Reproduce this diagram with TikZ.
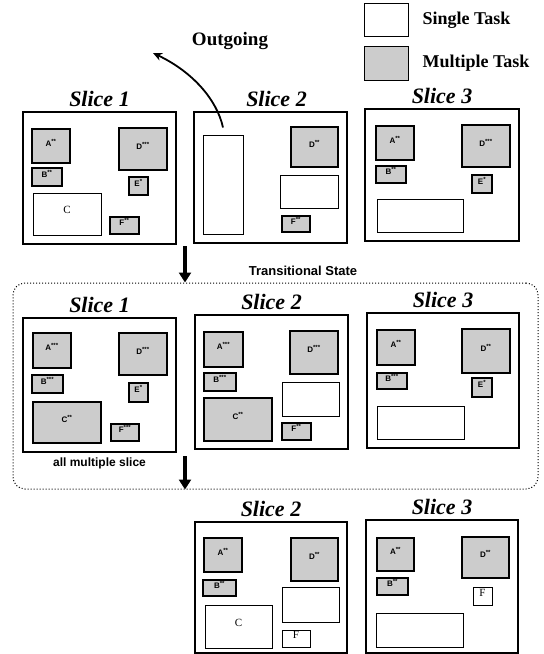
\documentclass[tikz,border=0pt]{standalone}
\usepackage{fontspec}
\setmainfont{Liberation Serif}
\setsansfont{Liberation Sans}
\usetikzlibrary{arrows.meta,fit,positioning}
\tikzset{
  slicebox/.style={draw,line width=1.2pt,inner sep=0pt},
  multitask/.style={draw,line width=2.4pt,fill=gray!40,inner sep=0pt,
    font=\sffamily\bfseries\fontsize{8}{8}\selectfont},
  singletask/.style={draw,line width=1pt,fill=white,inner sep=0pt,
    font=\fontsize{11}{11}\selectfont},
  slicetitle/.style={font=\bfseries\itshape\fontsize{22}{24}\selectfont,above=1pt of #1},
  bigarrow/.style={line width=3.5pt,-{Triangle[length=10pt,width=12pt]}},
  labeltext/.style={font=\bfseries\fontsize{18}{20}\selectfont,anchor=west},
  sanslabel/.style={font=\sffamily\bfseries\fontsize{13}{15}\selectfont},
}
% box spanning two corners: style, corner, corner, name, text
\newcommand\tbox[5]{\node[#1,fit={(#2) (#3)}] (#4) {#5};}
\newcommand\st[1]{\textsuperscript{#1}}
\begin{document}
\begin{tikzpicture}[x=1pt,y=-1pt]
 \useasboundingbox (0,0) rectangle (544,654);
 % legend
 \tbox{draw,line width=1pt}{368,7}{405,33}{lgsingle}{}
 \tbox{draw,line width=1.5pt,fill=gray!40}{368,50}{405,77}{lgmulti}{}
 \node[labeltext] at (419,20) {Single Task};
 \node[labeltext] at (419,63) {Multiple Task};

 % first row
 \tbox{slicebox}{23,112}{176,244}{r1s1}{}
 \node[slicetitle=r1s1] {Slice 1};
 \tbox{multitask}{32,129}{70,163}{r1s1a}{A\st{**}}
 \tbox{multitask}{119,128}{167,170}{r1s1d}{D\st{***}}
 \tbox{multitask}{32,168}{62,186}{r1s1b}{B\st{**}}
 \tbox{multitask}{129,177}{148,195}{r1s1e}{E\st{*}}
 \tbox{singletask}{33,193}{101,235}{r1s1c}{C}
 \tbox{multitask}{110,217}{139,234}{r1s1f}{F\st{**}}

 \tbox{slicebox}{194,112}{347,243}{r1s2}{}
 \node[slicetitle=r1s2,xshift=6pt] {Slice 2};
 \tbox{singletask}{203,135}{243,234}{r1s2out}{}
 \tbox{multitask}{291,127}{338,167}{r1s2d}{D\st{**}}
 \tbox{singletask}{280,175}{338,208}{r1s2g}{}
 \tbox{multitask}{282,216}{310,232}{r1s2f}{F\st{**}}

 \tbox{slicebox}{365,109}{519,241}{r1s3}{}
 \node[slicetitle=r1s3] {Slice 3};
 \tbox{multitask}{376,126}{414,160}{r1s3a}{A\st{**}}
 \tbox{multitask}{462,125}{510,167}{r1s3d}{D\st{***}}
 \tbox{multitask}{376,166}{406,183}{r1s3b}{B\st{**}}
 \tbox{multitask}{472,175}{492,193}{r1s3e}{E\st{*}}
 \tbox{singletask}{377,199}{463,232}{r1s3g}{}

 % outgoing task
 \coordinate (outend) at (153,53);
 \draw[line width=1.8pt,-{Stealth[length=9pt,width=8pt]}] ([yshift=7pt]r1s2out.north)
   .. controls (217,100) and (193,72) .. (outend);
 \node[font=\bfseries\fontsize{19}{21}\selectfont] (outlabel) at (230,41) {Outgoing};

 % transitional state
 \node[draw,dotted,line width=1pt,rounded corners=12pt,inner sep=0pt,
   fit={(13,283) (538,489)}] (trans) {};
 \node[sanslabel] (translabel) at (303,271) {Transitional State};
 \coordinate (arrA) at (185,246);
 \draw[bigarrow] (arrA) -- (arrA |- trans.north);

 \tbox{slicebox}{23,318}{176,452}{r2s1}{}
 \node[slicetitle=r2s1] {Slice 1};
 \tbox{multitask}{33,333}{71,368}{r2s1a}{A\st{***}}
 \tbox{multitask}{119,333}{167,375}{r2s1d}{D\st{***}}
 \tbox{multitask}{32,375}{63,393}{r2s1b}{B\st{***}}
 \tbox{multitask}{129,383}{148,402}{r2s1e}{E\st{*}}
 \tbox{multitask}{33,402}{101,443}{r2s1c}{C\st{**}}
 \tbox{multitask}{111,424}{139,441}{r2s1f}{F\st{***}}
 \node[sanslabel,font=\sffamily\bfseries\fontsize{12}{14}\selectfont,below=2pt of r2s1] (alllabel) {all multiple slice};

 \tbox{slicebox}{195,315}{348,449}{r2s2}{}
 \node[slicetitle=r2s2] {Slice 2};
 \tbox{multitask}{204,332}{243,367}{r2s2a}{A\st{***}}
 \tbox{multitask}{290,331}{338,374}{r2s2d}{D\st{***}}
 \tbox{multitask}{204,373}{236,391}{r2s2b}{B\st{***}}
 \tbox{singletask}{282,382}{339,416}{r2s2g}{}
 \tbox{multitask}{204,398}{272,441}{r2s2c}{C\st{**}}
 \tbox{multitask}{282,423}{311,440}{r2s2f}{F\st{**}}

 \tbox{slicebox}{367,313}{519,448}{r2s3}{}
 \node[slicetitle=r2s3] {Slice 3};
 \tbox{multitask}{377,330}{415,365}{r2s3a}{A\st{**}}
 \tbox{multitask}{462,329}{510,373}{r2s3d}{D\st{**}}
 \tbox{multitask}{377,373}{407,389}{r2s3b}{B\st{***}}
 \tbox{multitask}{472,378}{492,397}{r2s3e}{E\st{*}}
 \tbox{singletask}{377,406}{464,439}{r2s3g}{}

 \coordinate (arrB) at (185,456);
 \draw[bigarrow] (arrB) -- (arrB |- trans.south);

 % last row
 \tbox{slicebox}{195,522}{347,653}{r3s2}{}
 \node[slicetitle=r3s2] {Slice 2};
 \tbox{multitask}{204,538}{242,572}{r3s2a}{A\st{**}}
 \tbox{multitask}{291,538}{338,581}{r3s2d}{D\st{**}}
 \tbox{multitask}{203,580}{236,596}{r3s2b}{B\st{**}}
 \tbox{singletask}{282,587}{339,622}{r3s2g}{}
 \tbox{singletask}{205,605}{272,648}{r3s2c}{C}
 \tbox{singletask}{282,630}{310,647}{r3s2f}{F}

 \tbox{slicebox}{366,520}{518,653}{r3s3}{}
 \node[slicetitle=r3s3] {Slice 3};
 \tbox{multitask}{377,538}{414,571}{r3s3a}{A\st{**}}
 \tbox{multitask}{462,537}{509,578}{r3s3d}{D\st{**}}
 \tbox{multitask}{377,578}{408,595}{r3s3b}{B\st{**}}
 \tbox{singletask}{473,587}{492,605}{r3s3f}{F}
 \tbox{singletask}{376,613}{463,647}{r3s3g}{}
\end{tikzpicture}
\end{document}
